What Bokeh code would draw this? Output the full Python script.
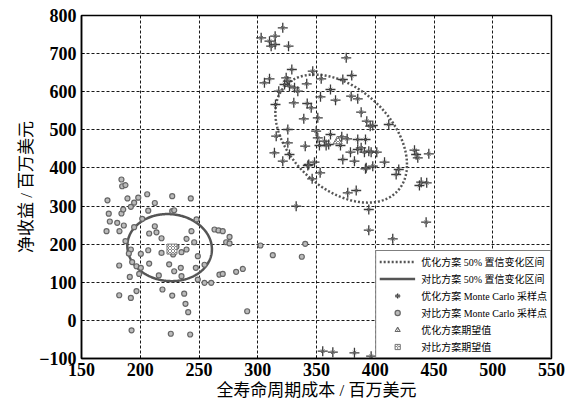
import numpy as np
from bokeh.plotting import figure
from bokeh.models import Legend, LegendItem, Range1d, ColumnDataSource
from bokeh.embed import file_html
from bokeh.resources import INLINE

# 优化方案 Monte Carlo 采样点 (全寿命周期成本, 净收益)
opt_x = [321.3, 302.9, 310.0, 314.8, 311.4, 314.8, 326.2, 375.3, 329.0, 346.8,
         310.0, 305.7, 324.2, 325.6, 322.8, 327.0, 331.3, 334.1, 341.7, 354.0,
         372.4, 380.0, 361.9, 317.9, 353.4, 379.5, 366.2, 315.1, 330.7, 342.1,
         345.5, 351.1, 339.2, 325.6, 349.7, 361.9, 371.5, 376.1, 315.7, 351.1,
         356.8, 340.4, 352.5, 358.2, 370.4, 325.6, 314.2, 327.0, 378.9, 321.3,
         348.3, 372.4, 342.6, 385.1, 388.0, 392.8, 395.7, 397.9, 411.5, 385.1,
         391.7, 385.1, 388.0, 390.8, 394.5, 396.5, 401.3, 382.3, 392.3, 397.9,
         407.9, 433.4, 434.8, 436.2, 445.6, 417.8, 420.0, 437.6, 439.1, 443.8,
         376.6, 383.8, 394.5, 360.4, 343.4, 353.1, 346.3, 391.7, 332.7, 394.5,
         414.9, 443.3, 355.3, 363.9, 382.3, 396.5]
opt_y = [767.7, 741.5, 732.6, 745.7, 719.4, 723.9, 719.4, 689.0, 658.3, 653.8,
         633.9, 623.4, 636.5, 627.6, 618.9, 614.5, 610.3, 601.4, 620.8, 633.9,
         632.1, 642.6, 605.8, 601.4, 586.7, 588.2, 577.7, 566.5, 570.9, 569.1,
         557.8, 531.6, 528.9, 500.9, 496.4, 487.7, 481.7, 476.5, 483.3, 479.1,
         470.2, 457.0, 458.9, 458.9, 458.9, 465.9, 439.7, 435.3, 441.3, 417.7,
         415.1, 422.1, 406.4, 581.4, 546.3, 522.6, 509.5, 511.4, 514.0, 474.6,
         474.6, 448.4, 452.9, 441.3, 443.9, 441.3, 441.3, 417.7, 400.4, 404.6,
         415.1, 446.5, 435.3, 426.6, 437.1, 382.8, 395.9, 353.9, 362.6, 361.0,
         334.8, 340.8, 290.9, 461.5, 409.0, 387.2, 371.5, 397.8, 299.6, 236.6,
         214.1, 257.6, -80.9, -83.5, -85.1, -94.0]

# 对比方案 Monte Carlo 采样点
cmp_x = [184.0, 184.6, 187.4, 172.1, 189.1, 194.8, 198.3, 205.9, 212.4, 227.2,
         243.0, 173.2, 184.0, 185.5, 192.0, 180.4, 186.0, 174.1, 171.3, 182.3,
         194.8, 201.7, 206.8, 227.2, 228.9, 212.4, 207.6, 213.8, 218.1, 247.9,
         243.6, 239.4, 245.9, 187.4, 192.0, 190.3, 200.5, 206.8, 218.1, 230.8,
         235.1, 239.4, 228.0, 182.1, 193.1, 196.8, 200.5, 207.6, 224.6, 234.5,
         247.3, 191.1, 199.1, 215.8, 228.9, 235.1, 182.1, 192.0, 196.8, 218.9,
         227.2, 237.4, 238.5, 240.8, 192.6, 226.0, 242.5, 263.2, 266.6, 270.2,
         276.0, 273.1, 276.0, 249.0, 254.7, 267.4, 270.2, 281.6, 287.3, 249.0,
         254.7, 260.4, 291.0, 302.3, 312.8, 337.5, 340.4]
cmp_y = [369.7, 352.0, 355.0, 315.0, 320.0, 309.0, 322.0, 331.0, 308.0, 326.0,
         320.0, 280.0, 280.5, 291.0, 298.0, 256.0, 249.0, 259.5, 234.0, 234.0,
         244.5, 266.5, 288.0, 286.5, 289.0, 247.0, 228.0, 231.0, 215.5, 265.0,
         234.0, 214.0, 205.0, 208.0, 186.0, 175.5, 174.7, 184.0, 177.0, 193.0,
         179.0, 186.0, 173.0, 144.0, 153.0, 142.0, 138.0, 149.0, 147.0, 138.0,
         138.0, 114.0, 122.0, 118.0, 129.0, 116.0, 66.0, 59.0, 77.0, 81.0,
         65.0, 70.0, 43.5, 21.5, -26.0, -35.0, -37.0, 238.5, 236.0, 234.0,
         219.0, 205.0, 202.0, 168.5, 146.0, 120.0, 122.0, 127.5, 135.0, 107.0,
         98.6, 98.6, 24.0, 196.5, 171.0, 167.0, 201.0]

# 期望值
opt_mean_x = [368]
opt_mean_y = [470]
cmp_mean_x = [227]
cmp_mean_y = [187]

# 50% 置信变化区间 (椭圆): 中心, x 半宽, y 半高, 相关系数
opt_ell = dict(cx=371, cy=477, rx=56, ry=168, rho=-0.405)
cmp_ell = dict(cx=225, cy=191, rx=36, ry=88, rho=-0.05)

x_ticks = [150, 200, 250, 300, 350, 400, 450, 500, 550]
y_ticks = [-100, 0, 100, 200, 300, 400, 500, 600, 700, 800]

labels = ["优化方案 50% 置信变化区间", "对比方案 50% 置信变化区间",
          "优化方案 Monte Carlo 采样点", "对比方案 Monte Carlo 采样点",
          "优化方案期望值", "对比方案期望值"]
x_label = "全寿命周期成本 / 百万美元"
y_label = "净收益 / 百万美元"


def ellipse(e):
    t = np.linspace(0, 2 * np.pi, 361)
    xs = e["cx"] + e["rx"] * np.cos(t)
    ys = e["cy"] + e["ry"] * (e["rho"] * np.cos(t) + np.sqrt(1 - e["rho"] ** 2) * np.sin(t))
    return xs, ys


FONT = "'Liberation Serif', 'Times New Roman', 'Noto Sans CJK SC', serif"

p = figure(output_backend="svg", toolbar_location=None,
           frame_width=470, frame_height=343,
           min_border_left=81, min_border_right=16, min_border_top=15, min_border_bottom=46,
           x_range=Range1d(150, 550), y_range=Range1d(-100, 800))

p.background_fill_color = "white"
p.border_fill_color = "white"
p.outline_line_color = "black"
p.outline_line_width = 1.5

for ax in (p.xaxis[0], p.yaxis[0]):
    ax.axis_line_color = "black"
    ax.axis_line_width = 1.5
    ax.major_tick_in = 3
    ax.major_tick_out = 0
    ax.minor_tick_line_color = None
    ax.major_label_text_font = FONT
    ax.major_label_text_font_size = "18px"
    ax.major_label_text_font_style = "bold"
    ax.major_label_text_color = "black"
    ax.axis_label_text_font = FONT
    ax.axis_label_text_font_size = "17px"
    ax.axis_label_text_font_style = "normal"
    ax.axis_label_text_color = "black"

p.xaxis.ticker = x_ticks
p.yaxis.ticker = y_ticks
p.xaxis.axis_label = x_label
p.yaxis.axis_label = y_label
p.xaxis.axis_label_standoff = 2
p.yaxis.axis_label_standoff = 0
p.xaxis.major_label_standoff = 4
p.yaxis.major_label_standoff = 5

for g in (p.xgrid[0], p.ygrid[0]):
    g.grid_line_color = "black"
    g.grid_line_dash = "3 2"
    g.grid_line_width = 1
    g.grid_line_alpha = 0.9

ox, oy = ellipse(opt_ell)
cx_, cy_ = ellipse(cmp_ell)

r_opt_ell = p.line(ox, oy, line_color="#555555", line_width=2.5, line_dash="2 2")
r_cmp_ell = p.line(cx_, cy_, line_color="#555555", line_width=2.5)

src_opt = ColumnDataSource(dict(x=opt_x, y=opt_y))
src_cmp = ColumnDataSource(dict(x=cmp_x, y=cmp_y))

r_cmp = p.scatter("x", "y", source=src_cmp, marker="circle", size=5,
                  fill_color="#bbbbbb", line_color="#666666", line_width=1.2)
r_opt1 = p.scatter("x", "y", source=src_opt, marker="cross", size=10,
                   line_color="#3a3a3a", line_width=1.3)
r_opt2 = p.scatter("x", "y", source=src_opt, marker="x", size=5,
                   line_color="#666666", line_width=1.0)

r_optm = p.scatter(opt_mean_x, opt_mean_y, marker="triangle", size=9,
                   fill_color="#888888", line_color="#666666",
                   hatch_pattern="x", hatch_color="white", hatch_scale=3)
r_cmpm = p.scatter(cmp_mean_x, cmp_mean_y, marker="square", size=10,
                   fill_color="#888888", line_color="#777777",
                   hatch_pattern="x", hatch_color="white", hatch_scale=3)

legend = Legend(items=[
    LegendItem(label=labels[0], renderers=[r_opt_ell]),
    LegendItem(label=labels[1], renderers=[r_cmp_ell]),
    LegendItem(label=labels[2], renderers=[r_opt1, r_opt2]),
    LegendItem(label=labels[3], renderers=[r_cmp]),
    LegendItem(label=labels[4], renderers=[r_optm]),
    LegendItem(label=labels[5], renderers=[r_cmpm]),
], location="bottom_right")
legend.label_text_font = FONT
legend.label_text_font_size = "10px"
legend.label_text_color = "black"
legend.glyph_width = 36
legend.glyph_height = 13
legend.label_height = 13
legend.spacing = 2
legend.padding = 3
legend.margin = 0
legend.label_standoff = 6
legend.border_line_color = "black"
legend.border_line_width = 1
legend.background_fill_color = "white"
legend.background_fill_alpha = 1
p.add_layout(legend)

open("out.html", "w").write(file_html(p, INLINE))
